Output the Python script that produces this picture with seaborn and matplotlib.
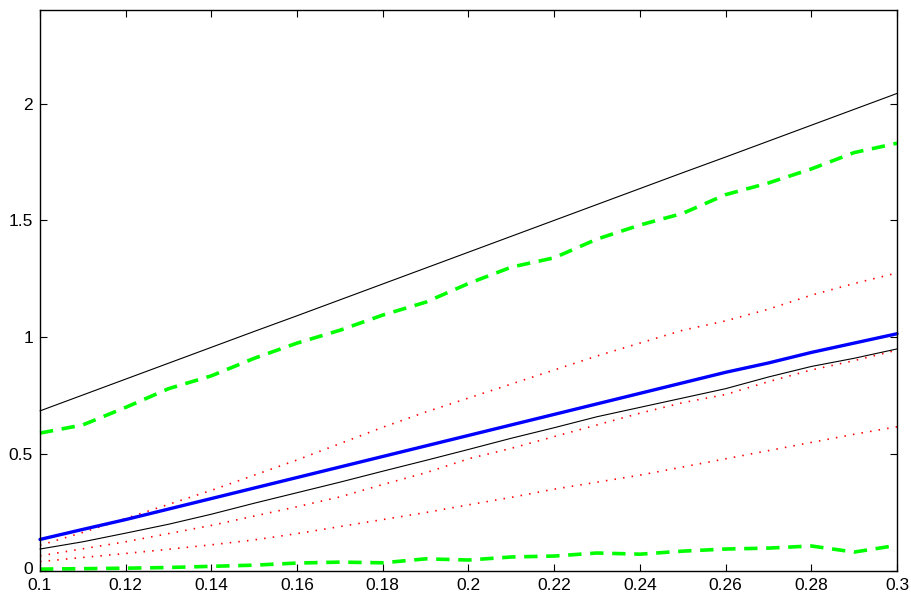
import matplotlib
matplotlib.use("Agg")
import matplotlib.pyplot as plt
import matplotlib.transforms as mtransforms
import seaborn as sns
import pandas as pd

x = [0.10, 0.11, 0.12, 0.13, 0.14, 0.15, 0.16, 0.17, 0.18, 0.19, 0.20,
     0.21, 0.22, 0.23, 0.24, 0.25, 0.26, 0.27, 0.28, 0.29, 0.30]

black_upper = [0.685, 0.753, 0.821, 0.889, 0.957, 1.025, 1.092, 1.160, 1.228, 1.296, 1.364,
               1.432, 1.500, 1.568, 1.636, 1.704, 1.771, 1.839, 1.907, 1.975, 2.043]
green_upper = [0.59, 0.625, 0.70, 0.78, 0.835, 0.91, 0.975, 1.03, 1.095, 1.15, 1.23,
               1.30, 1.34, 1.42, 1.48, 1.53, 1.61, 1.66, 1.72, 1.79, 1.83]
red_upper = [0.11, 0.165, 0.225, 0.285, 0.345, 0.41, 0.475, 0.545, 0.615, 0.68, 0.74,
             0.80, 0.86, 0.92, 0.975, 1.03, 1.07, 1.12, 1.18, 1.23, 1.275]
blue_mid = [0.135, 0.178, 0.22, 0.265, 0.31, 0.355, 0.40, 0.445, 0.49, 0.535, 0.58,
            0.625, 0.67, 0.715, 0.76, 0.805, 0.85, 0.89, 0.935, 0.975, 1.015]
black_lower = [0.094, 0.125, 0.162, 0.20, 0.243, 0.29, 0.335, 0.38, 0.427, 0.473, 0.52,
               0.568, 0.613, 0.66, 0.70, 0.74, 0.78, 0.83, 0.875, 0.91, 0.95]
red_mid = [0.065, 0.095, 0.125, 0.16, 0.195, 0.235, 0.275, 0.317, 0.37, 0.42, 0.48,
           0.525, 0.575, 0.625, 0.675, 0.72, 0.755, 0.81, 0.86, 0.90, 0.945]
red_lower = [0.04, 0.058, 0.075, 0.093, 0.112, 0.133, 0.16, 0.19, 0.22, 0.25, 0.283,
             0.315, 0.35, 0.38, 0.41, 0.445, 0.48, 0.515, 0.55, 0.585, 0.617]
green_lower = [0.008, 0.01, 0.012, 0.015, 0.02, 0.025, 0.034, 0.038, 0.035, 0.052, 0.047,
               0.06, 0.064, 0.077, 0.072, 0.085, 0.094, 0.098, 0.107, 0.081, 0.11]

xticks = [0.1, 0.12, 0.14, 0.16, 0.18, 0.2, 0.22, 0.24, 0.26, 0.28, 0.3]
xticklabels = ["0.1", "0.12", "0.14", "0.16", "0.18", "0.2", "0.22", "0.24", "0.26", "0.28", "0.3"]
yticks = [0, 0.5, 1, 1.5, 2]
yticklabels = ["0", "0.5", "1", "1.5", "2"]

sns.set_style("ticks")
plt.rcParams["font.family"] = ["Liberation Sans", "DejaVu Sans"]

fig = plt.figure(figsize=(9.12, 5.93), dpi=100)
ax = fig.add_axes([40/912, 1 - 571/593, (897 - 40)/912, (571 - 10)/593])

dot = (0, (0.9, 4.3))
dash = (0, (3.7, 2.4))
styles = [
    (black_upper, dict(color="black", linewidth=0.8, linestyle="-")),
    (green_upper, dict(color="#00ff00", linewidth=2.6, linestyle=dash)),
    (red_upper, dict(color="red", linewidth=1.2, linestyle=dot)),
    (red_mid, dict(color="red", linewidth=1.2, linestyle=dot)),
    (red_lower, dict(color="red", linewidth=1.2, linestyle=dot)),
    (black_lower, dict(color="black", linewidth=0.8, linestyle="-")),
    (blue_mid, dict(color="blue", linewidth=2.4, linestyle="-")),
    (green_lower, dict(color="#00ff00", linewidth=2.6, linestyle=dash)),
]
for ys, kw in styles:
    df = pd.DataFrame({"x": x, "y": ys})
    sns.lineplot(data=df, x="x", y="y", ax=ax, legend=False, clip_on=False, **kw)

ax.set_xlim(0.1, 0.3)
ax.set_ylim(0, 2.4)
ax.set_xticks(xticks)
ax.set_xticklabels(xticklabels)
ax.set_yticks(yticks)
ax.set_yticklabels(yticklabels)
ax.set_xlabel("")
ax.set_ylabel("")
for s in ax.spines.values():
    s.set_visible(True)
    s.set_linewidth(1.0)
    s.set_color("black")
ax.tick_params(direction="in", length=5, width=0.8, top=True, right=True,
               labelsize=12.5, colors="black")
ax.tick_params(axis="y", pad=5)
ax.tick_params(axis="x", pad=5)
# nudge the "0" y label up slightly so it clears the "0.1" x label
lab0 = ax.get_yticklabels()[0]
lab0.set_transform(lab0.get_transform() +
                   mtransforms.ScaledTranslation(0, 2.5 / 72, fig.dpi_scale_trans))

fig.savefig("out.png", dpi=100)
